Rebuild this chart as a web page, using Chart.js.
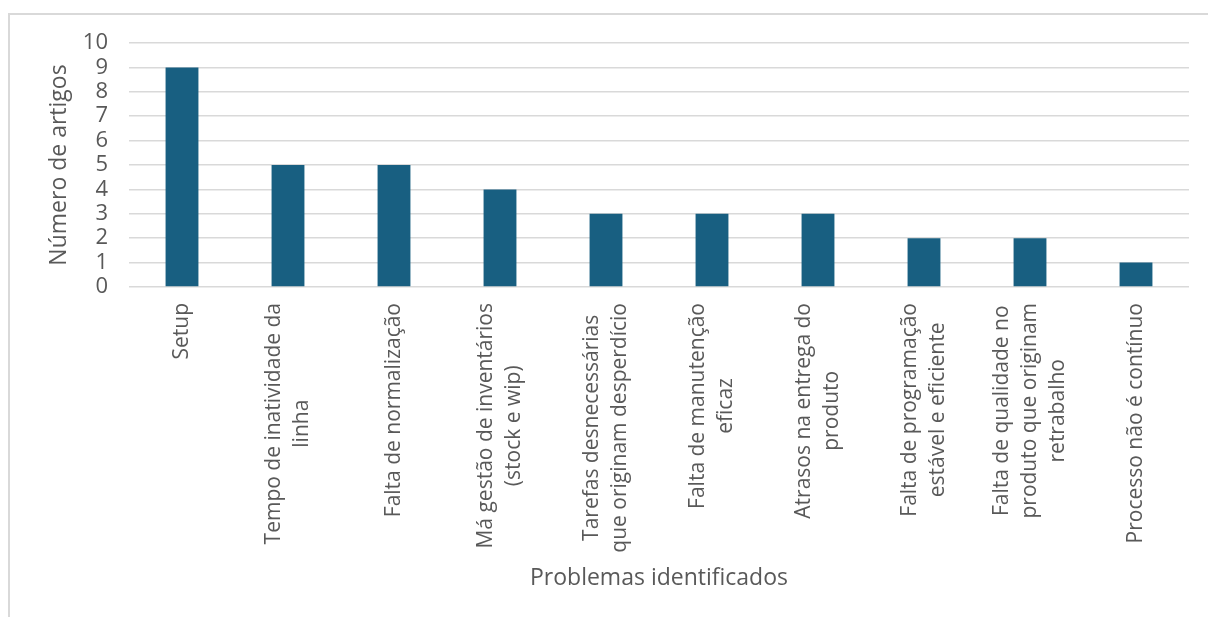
<!DOCTYPE html>
<html>
<head>
<meta charset="utf-8">
<script src="https://cdn.jsdelivr.net/npm/chart.js@4/dist/chart.umd.min.js"></script>
<style>
  body { margin: 0; background: #fff; }
  canvas { display: block; }
</style>
</head>
<body>
<canvas id="problemasChart" width="1208" height="617"></canvas>
<script>
const categorias = [
    ['Setup'],
    ['Tempo de inatividade da', 'linha'],
    ['Falta de normalização'],
    ['Má gestão de inventários', '(stock e wip)'],
    ['Tarefas desnecessárias', 'que originam desperdício'],
    ['Falta de manutenção', 'eficaz'],
    ['Atrasos na entrega do', 'produto'],
    ['Falta de programação', 'estável e eficiente'],
    ['Falta de qualidade no', 'produto que originam', 'retrabalho'],
    ['Processo não é contínuo']
]
const artigos = [9, 5, 5, 4, 3, 3, 3, 2, 2, 1]
const yTicks = [0, 1, 2, 3, 4, 5, 6, 7, 8, 9, 10]

const textColor = '#595959'
const gridColor = '#D9D9D9'
const fonte = "'Open Sans', sans-serif"

// moldura cinzenta à volta do gráfico
const moldura = {
    id: 'moldura',
    beforeDraw(chart) {
        const ctx = chart.ctx
        ctx.save()
        ctx.strokeStyle = gridColor
        ctx.lineWidth = 2
        ctx.strokeRect(9, 14, chart.width + 50, chart.height + 50)
        ctx.restore()
    }
}

// rótulos do eixo x rodados, com as linhas centradas entre si
const rotulosX = {
    id: 'rotulosX',
    afterDraw(chart) {
        const ctx = chart.ctx
        const xs = chart.scales.x
        const topo = chart.chartArea.bottom + 16
        const alturaLinha = 28
        ctx.save()
        ctx.font = "21px " + fonte
        ctx.fillStyle = textColor
        ctx.textAlign = 'center'
        ctx.textBaseline = 'middle'
        categorias.forEach((linhas, i) => {
            const x = xs.getPixelForTick(i)
            const largura = Math.max(...linhas.map(l => ctx.measureText(l).width))
            ctx.save()
            ctx.translate(x, topo)
            ctx.rotate(-Math.PI / 2)
            linhas.forEach((l, j) => {
                const dy = (j - (linhas.length - 1) / 2) * alturaLinha
                ctx.fillText(l, -largura / 2, dy)
            })
            ctx.restore()
        })
        ctx.restore()
    }
}

new Chart(document.getElementById('problemasChart'), {
    type: 'bar',
    data: {
        labels: categorias,
        datasets: [{
            label: 'Número de artigos',
            data: artigos,
            backgroundColor: '#185F81',
            categoryPercentage: 1,
            barPercentage: 0.31
        }]
    },
    options: {
        responsive: false,
        animation: false,
        layout: { padding: { top: 43, right: 19, bottom: 25, left: 46 } },
        plugins: {
            legend: { display: false },
            tooltip: { enabled: false }
        },
        scales: {
            x: {
                grid: { display: false },
                border: { display: false },
                ticks: { display: false },
                afterFit: (scale) => { scale.height = 305 },
                title: {
                    display: true,
                    text: 'Problemas identificados',
                    color: textColor,
                    font: { family: fonte, size: 23 },
                    padding: 0
                }
            },
            y: {
                min: 0,
                max: 10,
                afterBuildTicks: (scale) => { scale.ticks = yTicks.map(v => ({ value: v })) },
                grid: { color: gridColor, lineWidth: 1.5, drawTicks: false },
                border: { display: false },
                ticks: {
                    autoSkip: false,
                    color: textColor,
                    padding: 21,
                    font: { family: fonte, size: 22 }
                },
                afterFit: (scale) => { scale.width = 83 },
                title: {
                    display: true,
                    text: 'Número de artigos',
                    color: textColor,
                    font: { family: fonte, size: 23 },
                    padding: 0
                }
            }
        }
    },
    plugins: [moldura, rotulosX]
});
</script>
</body>
</html>
